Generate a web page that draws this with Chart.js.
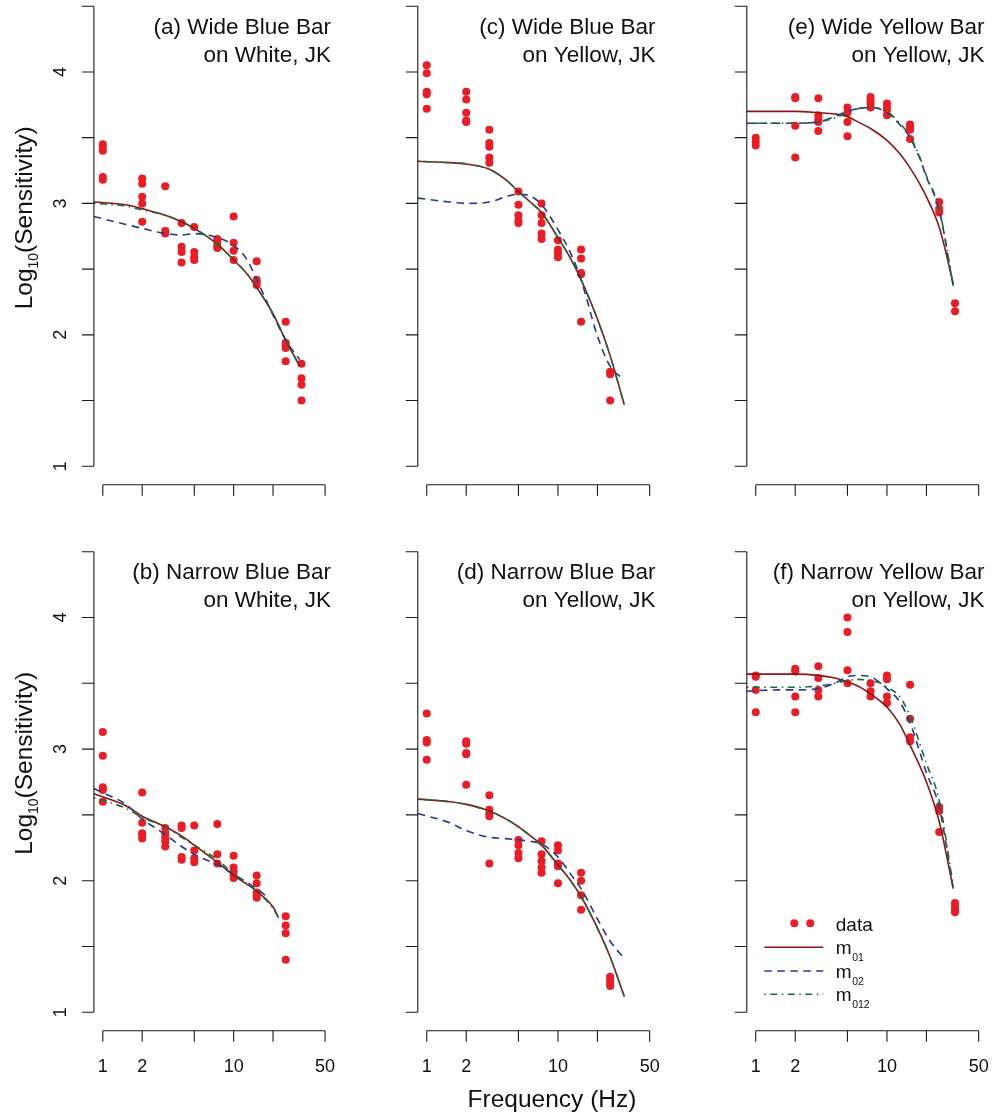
<!DOCTYPE html>
<html>
<head>
<meta charset="utf-8">
<script src="https://cdn.jsdelivr.net/npm/chart.js@4.4.1/dist/chart.umd.min.js"></script>
<style>
  body { margin: 0; background: #fff; width: 994px; height: 1120px; overflow: hidden; position: relative; }
  canvas { position: absolute; }
</style>
</head>
<body>
<script>
// axis ticks
const xTicks = [1, 2, 5, 10, 20, 50];
const xTickLabels = ['1', '2', '', '10', '', '50'];
const yTicks = [1, 1.5, 2, 2.5, 3, 3.5, 4, 4.5];
const yTickLabels = ['1', '', '2', '', '3', '', '4', ''];

// (a) Wide Blue Bar on White
const aFreq = [1, 2, 3, 4, 5, 7.5, 10, 15, 25, 33];
const aObs = [
  [3.45, 3.43, 3.40, 3.20, 3.18],
  [3.19, 3.15, 3.05, 3.00, 2.86],
  [3.13, 2.79, 2.77],
  [2.85, 2.67, 2.63, 2.55],
  [2.82, 2.63, 2.59, 2.57],
  [2.73, 2.71, 2.68, 2.66],
  [2.90, 2.70, 2.64, 2.57],
  [2.56, 2.42, 2.40, 2.38],
  [2.10, 1.94, 1.92, 1.90, 1.80],
  [1.78, 1.67, 1.62, 1.50]
];
const aFitX = [0.855, 1.5, 2, 3, 4, 5, 7.5, 10, 12.5, 15, 20, 25, 32];
const aM01 = [3.01, 2.99, 2.96, 2.91, 2.86, 2.81, 2.69, 2.57, 2.47, 2.36, 2.16, 1.96, 1.76];
const aM02 = [2.90, 2.84, 2.81, 2.77, 2.76, 2.77, 2.74, 2.68, 2.58, 2.42, 2.15, 1.96, 1.81];
const aM012 = [3.00, 2.98, 2.95, 2.91, 2.86, 2.81, 2.69, 2.57, 2.47, 2.36, 2.16, 1.96, 1.76];

// (b) Narrow Blue Bar on White
const bFreq = [1, 2, 3, 4, 5, 7.5, 10, 15, 25];
const bObs = [
  [3.13, 2.95, 2.71, 2.69, 2.60],
  [2.67, 2.44, 2.36, 2.35, 2.32],
  [2.40, 2.36, 2.33, 2.30, 2.26],
  [2.42, 2.40, 2.18, 2.16],
  [2.42, 2.23, 2.17, 2.14],
  [2.43, 2.20, 2.13],
  [2.19, 2.10, 2.07, 2.04, 2.02],
  [2.04, 1.98, 1.91, 1.89, 1.87],
  [1.73, 1.66, 1.60, 1.40]
];
const bFitX = [0.855, 1.5, 2, 3, 4, 5, 7.5, 10, 15, 20, 22];
const bM01 = [2.66, 2.57, 2.49, 2.41, 2.34, 2.27, 2.14, 2.04, 1.92, 1.80, 1.72];
const bM012 = [2.63, 2.55, 2.48, 2.41, 2.33, 2.27, 2.16, 2.05, 1.92, 1.79, 1.72];
const bFitX2 = [0.855, 1.5, 2, 3, 4, 5, 7.5, 10, 12.5, 15, 18];
const bM02 = [2.70, 2.58, 2.47, 2.35, 2.26, 2.20, 2.12, 2.05, 1.99, 1.94, 1.88];

// (c) Wide Blue Bar on Yellow
const cFreq = [1, 2, 3, 5, 7.5, 10, 15, 25];
const cObs = [
  [4.05, 3.99, 3.85, 3.83, 3.72],
  [3.85, 3.79, 3.69, 3.63, 3.62],
  [3.56, 3.46, 3.43, 3.35, 3.31],
  [3.09, 2.99, 2.91, 2.87, 2.85],
  [3.00, 2.91, 2.85, 2.77, 2.73],
  [2.72, 2.65, 2.62, 2.59],
  [2.65, 2.58, 2.47, 2.46, 2.10],
  [1.72, 1.70, 1.50]
];
const cFitX = [0.855, 1.5, 2, 3, 4, 5, 6, 7.5, 10, 12.5, 15, 20, 25, 32];
const cM01 = [3.32, 3.31, 3.30, 3.26, 3.18, 3.09, 3.02, 2.93, 2.74, 2.58, 2.42, 2.12, 1.84, 1.47];
const cM02 = [3.04, 3.01, 3.00, 3.01, 3.05, 3.07, 3.06, 2.99, 2.80, 2.62, 2.42, 1.99, 1.76, 1.66];
const cM012 = [3.32, 3.31, 3.30, 3.26, 3.18, 3.09, 3.02, 2.93, 2.74, 2.58, 2.42, 2.12, 1.84, 1.47];

// (d) Narrow Blue Bar on Yellow
const dFreq = [1, 2, 3, 5, 7.5, 10, 15, 25];
const dObs = [
  [3.27, 3.07, 3.05, 2.92],
  [3.06, 3.04, 2.97, 2.96, 2.73],
  [2.65, 2.54, 2.51, 2.49, 2.13],
  [2.31, 2.27, 2.21, 2.17],
  [2.30, 2.20, 2.15, 2.10, 2.06],
  [2.27, 2.23, 2.13, 2.11, 1.98],
  [2.06, 2.00, 1.89, 1.78],
  [1.27, 1.25, 1.22, 1.20]
];
const dFitX = [0.855, 1.5, 2, 3, 4, 5, 6, 7.5, 10, 12.5, 15, 20, 25, 32];
const dM01 = [2.62, 2.60, 2.58, 2.53, 2.47, 2.41, 2.35, 2.27, 2.12, 2.00, 1.88, 1.64, 1.42, 1.12];
const dM02 = [2.51, 2.44, 2.38, 2.33, 2.32, 2.31, 2.30, 2.28, 2.18, 2.05, 1.94, 1.71, 1.54, 1.41];
const dM012 = [2.62, 2.60, 2.58, 2.53, 2.47, 2.41, 2.35, 2.27, 2.12, 2.00, 1.88, 1.64, 1.42, 1.12];

// (e) Wide Yellow Bar on Yellow
const eFreq = [1, 2, 3, 5, 7.5, 10, 15, 25, 33];
const eObs = [
  [3.50, 3.47, 3.44],
  [3.81, 3.80, 3.59, 3.35],
  [3.80, 3.67, 3.64, 3.62, 3.55],
  [3.73, 3.69, 3.62, 3.51],
  [3.81, 3.78, 3.76, 3.73],
  [3.76, 3.73, 3.71, 3.67],
  [3.60, 3.58, 3.56, 3.49],
  [3.01, 2.96, 2.93],
  [2.24, 2.18]
];
const eFitX = [0.855, 1.5, 2, 3, 4, 5, 6, 7.5, 10, 12.5, 15, 17.5, 20, 25, 32];
const eM01 = [3.70, 3.70, 3.70, 3.69, 3.68, 3.66, 3.62, 3.57, 3.48, 3.38, 3.27, 3.16, 3.05, 2.82, 2.39];
const eM02 = [3.61, 3.61, 3.61, 3.62, 3.66, 3.70, 3.72, 3.73, 3.69, 3.60, 3.50, 3.36, 3.20, 2.95, 2.37];
const eM012 = [3.61, 3.61, 3.61, 3.62, 3.65, 3.69, 3.72, 3.73, 3.70, 3.61, 3.51, 3.37, 3.21, 2.96, 2.37];

// (f) Narrow Yellow Bar on Yellow
const fFreq = [1, 2, 3, 5, 7.5, 10, 15, 25, 33];
const fObs = [
  [3.56, 3.55, 3.45, 3.28],
  [3.61, 3.59, 3.40, 3.28],
  [3.63, 3.54, 3.45, 3.40],
  [4.00, 3.89, 3.60, 3.50],
  [3.50, 3.44, 3.40],
  [3.56, 3.53, 3.40, 3.35],
  [3.49, 3.23, 3.09, 3.06],
  [2.56, 2.53, 2.37],
  [1.83, 1.80, 1.78, 1.76]
];
const fFitX = [0.855, 1.5, 2, 3, 4, 5, 6, 7.5, 9, 10, 12.5, 15, 20, 25, 32];
const fM01 = [3.57, 3.57, 3.57, 3.56, 3.54, 3.51, 3.48, 3.42, 3.36, 3.32, 3.19, 3.03, 2.75, 2.45, 1.94];
const fM02 = [3.44, 3.45, 3.45, 3.46, 3.50, 3.55, 3.56, 3.55, 3.50, 3.46, 3.36, 3.20, 2.82, 2.56, 1.94];
const fM012 = [3.47, 3.47, 3.47, 3.48, 3.50, 3.52, 3.53, 3.52, 3.50, 3.47, 3.40, 3.25, 2.89, 2.61, 1.96];

var RED = '#ed1c24', M01 = '#8e1616', M02 = '#23398f', M012 = '#1a6e35';
var FONT = '"Liberation Sans", Arial, Helvetica, sans-serif';

function obsPoints(freq, obs) {
  var pts = [];
  freq.forEach(function(f, i) {
    obs[i].forEach(function(v) { pts.push({x: f, y: v}); });
  });
  return pts;
}
function curve(xs, ys) {
  return xs.map(function(x, i) { return {x: x, y: ys[i]}; });
}

var panels = [
  {col: 0, row: 0, title: ['(a) Wide Blue Bar', 'on White, JK'], freq: aFreq, obs: aObs,
   m01: curve(aFitX, aM01), m02: curve(aFitX, aM02), m012: curve(aFitX, aM012)},
  {col: 0, row: 1, title: ['(b) Narrow Blue Bar', 'on White, JK'], freq: bFreq, obs: bObs,
   m01: curve(bFitX, bM01), m02: curve(bFitX2, bM02), m012: curve(bFitX, bM012)},
  {col: 1, row: 0, title: ['(c) Wide Blue Bar', 'on Yellow, JK'], freq: cFreq, obs: cObs,
   m01: curve(cFitX, cM01), m02: curve(cFitX, cM02), m012: curve(cFitX, cM012)},
  {col: 1, row: 1, title: ['(d) Narrow Blue Bar', 'on Yellow, JK'], freq: dFreq, obs: dObs,
   m01: curve(dFitX, dM01), m02: curve(dFitX, dM02), m012: curve(dFitX, dM012)},
  {col: 2, row: 0, title: ['(e) Wide Yellow Bar', 'on Yellow, JK'], freq: eFreq, obs: eObs,
   m01: curve(eFitX, eM01), m02: curve(eFitX, eM02), m012: curve(eFitX, eM012)},
  {col: 2, row: 1, title: ['(f) Narrow Yellow Bar', 'on Yellow, JK'], freq: fFreq, obs: fObs,
   m01: curve(fFitX, fM01), m02: curve(fFitX, fM02), m012: curve(fFitX, fM012)}
];

// layout: canvas cells and R-style plot regions
var colCanvas = [[0, 338], [338, 328], [666, 328]];
var rowCanvas = [[-20, 545], [525, 595]];
var colPlotLeft = [93.9, 417.8, 746.8], plotW = 240.8;
var rowPlot = [[-12.2, 484.7], [533.3, 1030.7]];

// draws R-like detached axes, titles and legend
var panelDeco = {
  id: 'panelDeco',
  afterDraw: function(chart, args, o) {
    var ctx = chart.ctx, a = chart.chartArea, xs = chart.scales.x, ys = chart.scales.y;
    ctx.save();
    ctx.strokeStyle = '#1a1a1a';
    ctx.lineWidth = 1.1;
    ctx.fillStyle = '#111';
    ctx.beginPath();
    ctx.moveTo(a.left, ys.getPixelForValue(yTicks[0]));
    ctx.lineTo(a.left, ys.getPixelForValue(yTicks[yTicks.length - 1]));
    yTicks.forEach(function(v) {
      var py = ys.getPixelForValue(v);
      ctx.moveTo(a.left, py); ctx.lineTo(a.left - 12, py);
    });
    ctx.moveTo(xs.getPixelForValue(xTicks[0]), a.bottom);
    ctx.lineTo(xs.getPixelForValue(xTicks[xTicks.length - 1]), a.bottom);
    xTicks.forEach(function(v) {
      var px = xs.getPixelForValue(v);
      ctx.moveTo(px, a.bottom); ctx.lineTo(px, a.bottom + 11);
    });
    ctx.stroke();

    ctx.font = '18px ' + FONT;
    if (o.yLabels) {
      yTicks.forEach(function(v, i) {
        if (!yTickLabels[i]) return;
        ctx.save();
        ctx.translate(a.left - 28, ys.getPixelForValue(v));
        ctx.rotate(-Math.PI / 2);
        ctx.textAlign = 'center';
        ctx.fillText(yTickLabels[i], 0, 0);
        ctx.restore();
      });
    }
    if (o.xLabels) {
      ctx.textAlign = 'center';
      xTicks.forEach(function(v, i) {
        if (xTickLabels[i]) ctx.fillText(xTickLabels[i], xs.getPixelForValue(v), a.bottom + 41.6);
      });
    }

    // panel title, right aligned inside the plot
    ctx.font = '22.5px ' + FONT;
    ctx.textAlign = 'right';
    ctx.fillText(o.title[0], a.right - 3, a.top + 46);
    ctx.fillText(o.title[1], a.right - 3, a.top + 74);

    if (o.yTitle) {
      ctx.save();
      ctx.translate(a.left - 62.2, a.top + 230);
      ctx.rotate(-Math.PI / 2);
      ctx.textAlign = 'left';
      var big = '24.5px ' + FONT, small = '14px ' + FONT;
      ctx.font = big; var w1 = ctx.measureText('Log').width, w3 = ctx.measureText('(Sensitivity)').width;
      ctx.font = small; var w2 = ctx.measureText('10').width;
      var x0 = -(w1 + w2 + w3) / 2;
      ctx.font = big; ctx.fillText('Log', x0, 0);
      ctx.font = small; ctx.fillText('10', x0 + w1, 6);
      ctx.font = big; ctx.fillText('(Sensitivity)', x0 + w1 + w2, 0);
      ctx.restore();
    }
    if (o.xTitle) {
      ctx.font = '24.5px ' + FONT;
      ctx.textAlign = 'center';
      ctx.fillText('Frequency (Hz)', a.left + 134.2, a.bottom + 76);
    }

    if (o.legend) {
      var lx = a.left, by = a.bottom;
      ctx.fillStyle = RED;
      [47.5, 63.5].forEach(function(dx) {
        ctx.beginPath(); ctx.arc(lx + dx, by - 107.4, 4, 0, Math.PI * 2); ctx.fill();
      });
      var rows = [[M01, [], -83.4, '01'], [M02, [7.5, 5.5], -59.7, '02'], [M012, [1.5, 4.5, 7, 4.5], -36.4, '012']];
      ctx.lineWidth = 1.6;
      rows.forEach(function(r) {
        ctx.strokeStyle = r[0];
        ctx.setLineDash(r[1]);
        ctx.beginPath(); ctx.moveTo(lx + 17.5, by + r[2]); ctx.lineTo(lx + 76.5, by + r[2]); ctx.stroke();
      });
      ctx.setLineDash([]);
      ctx.fillStyle = '#111';
      ctx.textAlign = 'left';
      ctx.font = '19px ' + FONT;
      ctx.fillText('data', lx + 89, by - 100);
      rows.forEach(function(r) {
        ctx.font = '19px ' + FONT;
        var mw = ctx.measureText('m').width;
        ctx.fillText('m', lx + 89, by + r[2] + 7);
        ctx.font = '10.5px ' + FONT;
        ctx.fillText(r[3], lx + 89 + mw + 0.5, by + r[2] + 13.5);
      });
    }
    ctx.restore();
  }
};

panels.forEach(function(p) {
  var cc = colCanvas[p.col], rc = rowCanvas[p.row];
  var cv = document.createElement('canvas');
  cv.width = cc[1]; cv.height = rc[1];
  cv.style.left = cc[0] + 'px'; cv.style.top = rc[0] + 'px';
  cv.style.width = cc[1] + 'px'; cv.style.height = rc[1] + 'px';
  document.body.appendChild(cv);

  var left = colPlotLeft[p.col];
  var pad = {
    left: left - cc[0],
    right: cc[0] + cc[1] - (left + plotW),
    top: rowPlot[p.row][0] - rc[0],
    bottom: rc[0] + rc[1] - rowPlot[p.row][1]
  };

  new Chart(cv, {
    type: 'scatter',
    data: {
      datasets: [
        {type: 'line', label: 'm012', data: p.m012, borderColor: M012, borderWidth: 1.6,
         borderDash: [1.5, 4.5, 7, 4.5], pointRadius: 0, fill: false, cubicInterpolationMode: 'monotone', order: 0},
        {type: 'line', label: 'm02', data: p.m02, borderColor: M02, borderWidth: 1.6,
         borderDash: [7.5, 5.5], pointRadius: 0, fill: false, cubicInterpolationMode: 'monotone', order: 1},
        {type: 'line', label: 'm01', data: p.m01, borderColor: M01, borderWidth: 1.6,
         pointRadius: 0, fill: false, cubicInterpolationMode: 'monotone', order: 2},
        {type: 'scatter', label: 'data', data: obsPoints(p.freq, p.obs), backgroundColor: RED,
         borderWidth: 0, pointRadius: 4, order: 3}
      ]
    },
    options: {
      responsive: false,
      animation: false,
      devicePixelRatio: 1,
      layout: {padding: pad},
      scales: {
        x: {type: 'logarithmic', min: Math.pow(10, -0.068), max: Math.pow(10, 1.767), bounds: 'data', display: false},
        y: {type: 'linear', min: 0.86, max: 4.64, bounds: 'data', display: false}
      },
      plugins: {
        legend: {display: false},
        tooltip: {enabled: false},
        panelDeco: {
          title: p.title,
          yLabels: p.col === 0,
          yTitle: p.col === 0,
          xLabels: p.row === 1,
          xTitle: p.col === 1 && p.row === 1,
          legend: p.col === 2 && p.row === 1
        }
      }
    },
    plugins: [panelDeco]
  });
});
</script>
</body>
</html>
